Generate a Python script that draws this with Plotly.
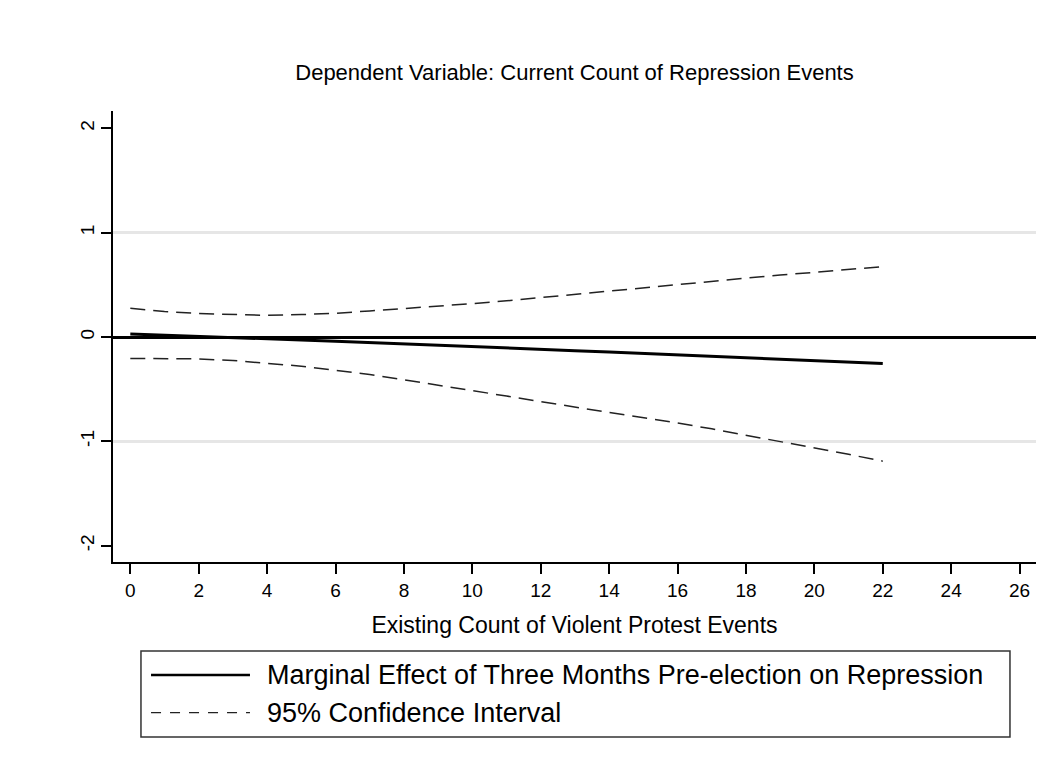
import plotly.graph_objects as go

# ---- data ----
violent_protest_count = [0, 1, 2, 3, 4, 5, 6, 7, 8, 9, 10, 11, 12, 13, 14, 15, 16, 17, 18, 19, 20, 21, 22]
marginal_effect = [0.028, 0.018, 0.007, -0.004, -0.016, -0.028, -0.040, -0.052, -0.066, -0.079,
                   -0.092, -0.105, -0.118, -0.131, -0.144, -0.158, -0.172, -0.186, -0.198,
                   -0.212, -0.225, -0.238, -0.255]
ci_upper = [0.275, 0.245, 0.225, 0.213, 0.208, 0.215, 0.228, 0.250, 0.272, 0.295,
            0.320, 0.347, 0.378, 0.410, 0.440, 0.475, 0.508, 0.540, 0.567, 0.595,
            0.620, 0.648, 0.675]
ci_lower = [-0.205, -0.205, -0.210, -0.225, -0.250, -0.280, -0.320, -0.360, -0.410, -0.460,
            -0.510, -0.566, -0.620, -0.670, -0.720, -0.770, -0.825, -0.880, -0.940, -1.000,
            -1.065, -1.125, -1.190]

x_ticks = [0, 2, 4, 6, 8, 10, 12, 14, 16, 18, 20, 22, 24, 26]
y_ticks = [-2, -1, 0, 1, 2]
grid_y = [-1, 1]

title_text = "Dependent Variable: Current Count of Repression Events"
x_title = "Existing Count of Violent Protest Events"
legend_labels = ["Marginal Effect of Three Months Pre-election on Repression",
                 "95% Confidence Interval"]

FONT = "Arial, 'Liberation Sans', Helvetica, sans-serif"

fig = go.Figure()
fig.add_trace(go.Scatter(x=violent_protest_count, y=ci_upper, mode="lines",
                         line=dict(color="#222222", width=1.5, dash="15px,8px"),
                         name=legend_labels[1], showlegend=False))
fig.add_trace(go.Scatter(x=violent_protest_count, y=ci_lower, mode="lines",
                         line=dict(color="#222222", width=1.5, dash="15px,8px"),
                         name=legend_labels[1], showlegend=False))
fig.add_trace(go.Scatter(x=violent_protest_count, y=marginal_effect, mode="lines",
                         line=dict(color="black", width=3),
                         name=legend_labels[0], showlegend=False))

# custom legend (box, line samples, labels) to mimic the Stata legend
lx0, lx1, ly0, ly1 = 0.0303, 0.9718, -0.388, -0.1973
fig.add_shape(type="rect", xref="paper", yref="paper", x0=lx0, x1=lx1, y0=ly0, y1=ly1,
              line=dict(color="#333333", width=1.5), fillcolor="white")
row_y = [-0.2506, -0.3341]
fig.add_shape(type="line", xref="paper", yref="paper", x0=0.0412, x1=0.1484,
              y0=row_y[0], y1=row_y[0], line=dict(color="black", width=2.5))
fig.add_shape(type="line", xref="paper", yref="paper", x0=0.0412, x1=0.1484,
              y0=row_y[1], y1=row_y[1], line=dict(color="#222222", width=1.2, dash="10px,9px"))
for lab, yy in zip(legend_labels, row_y):
    fig.add_annotation(text=lab, xref="paper", yref="paper", x=0.1649, y=yy,
                       xanchor="left", yanchor="middle", showarrow=False,
                       font=dict(family=FONT, size=27, color="black"))

fig.update_layout(
    width=1055, height=772,
    paper_bgcolor="white", plot_bgcolor="white",
    margin=dict(l=105, r=27, t=103, b=218),
    font=dict(family=FONT, color="black"),
    title=dict(text=title_text, x=0.5, xref="paper", y=1 - 64 / 772, yref="container",
               xanchor="center", yanchor="middle",
               font=dict(family=FONT, size=22, color="black")),
    showlegend=False,
)
fig.update_xaxes(
    range=[-0.506, 26.48], tickvals=x_ticks, ticktext=[str(v) for v in x_ticks],
    showline=True, linecolor="black", linewidth=1.5, mirror=False,
    ticks="outside", ticklen=10, tickwidth=1.5, tickcolor="black",
    tickfont=dict(family=FONT, size=19, color="black"),
    showgrid=False, zeroline=False,
    title=dict(text=x_title, font=dict(family=FONT, size=23, color="black"), standoff=17),
)
fig.update_yaxes(
    range=[-2.157, 2.167], tickvals=y_ticks, ticktext=[str(v) for v in y_ticks],
    tickangle=-90,
    showline=True, linecolor="black", linewidth=1.5, mirror=False,
    ticks="outside", ticklen=10, tickwidth=1.5, tickcolor="black",
    tickfont=dict(family=FONT, size=19, color="black"),
    showgrid=False,
    zeroline=True, zerolinecolor="black", zerolinewidth=2.5,
    minor=dict(tickvals=grid_y, showgrid=True, gridcolor="#e6e6e6", gridwidth=2.5, ticks=""),
)

fig.write_html("out.html")
